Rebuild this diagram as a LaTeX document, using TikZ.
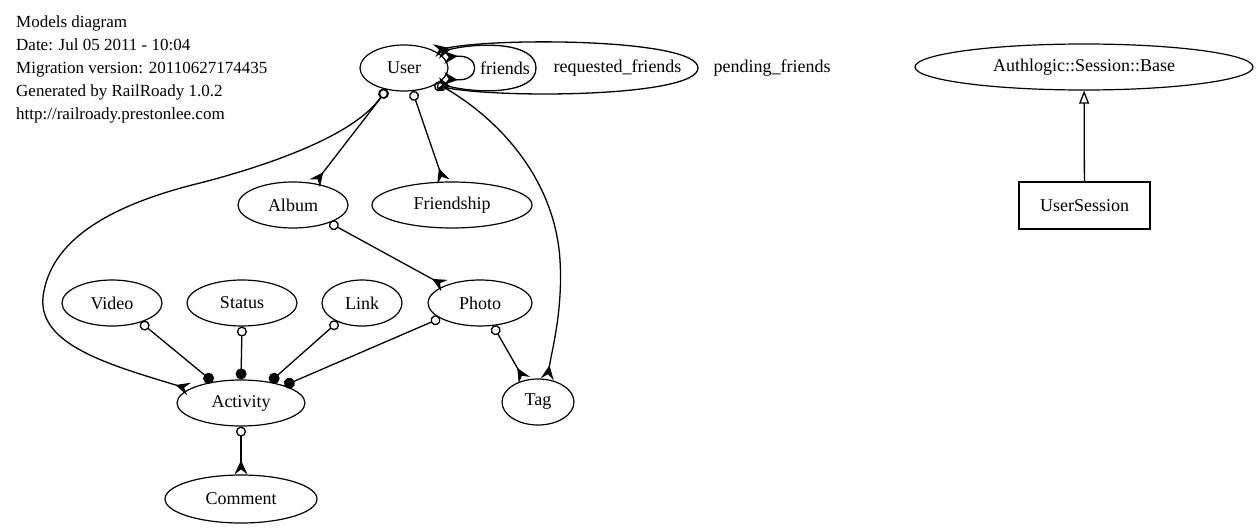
\documentclass[tikz,border=0pt]{standalone}
\usepackage{fontspec}
\setmainfont{Liberation Serif}
\usetikzlibrary{shapes.geometric,arrows.meta}
\tikzset{
  crowfoot/.tip={Stealth[reversed,length=14pt,width=13pt,inset=5pt]},
  odot/.tip={Circle[open,length=10pt,width=10pt]},
  fdot/.tip={Circle[length=11pt,width=11pt]},
  model/.style={draw, ellipse, line width=1.2pt, inner sep=0pt,
    font=\fontsize{18}{21}\selectfont},
  boxmodel/.style={draw, rectangle, line width=1.2pt, inner sep=0pt,
    font=\fontsize{18}{21}\selectfont},
  info/.style={anchor=base west, inner sep=0pt, font=\fontsize{17}{20}\selectfont},
  lbl/.style={inner sep=0pt, font=\fontsize{18}{21}\selectfont},
  link/.style={line width=1.3pt},
  hasmany/.style={link, arrows={odot-crowfoot}},
  poly/.style={link, arrows={odot-fdot}},
}
\begin{document}
\begin{tikzpicture}[x=1pt,y=-1pt]
\useasboundingbox (0,0) rectangle (1260,530);

% header
\node[info] (h1) at (16,27.5) {Models diagram};
\node[info] (h2) at (16,50.5) {Date: Jul 05 2011 - 10:04};
\node[info] (h3) at (16,73.5) {Migration version: 20110627174435};
\node[info] (h4) at (16,96.5) {Generated by RailRoady 1.0.2};
\node[info] (h5) at (16,119) {http://railroady.prestonlee.com};

% models
\node[model, minimum width=88pt, minimum height=46pt] (user) at (404,68) {User};
\node[model, minimum width=110pt, minimum height=46pt] (album) at (293,205) {Album};
\node[model, minimum width=160pt, minimum height=46pt] (friendship) at (452,205) {Friendship};
\node[model, minimum width=100pt, minimum height=46pt] (video) at (112,303) {Video};
\node[model, minimum width=110pt, minimum height=46pt] (status) at (242,303) {Status};
\node[model, minimum width=80pt, minimum height=46pt] (link) at (362,303) {Link};
\node[model, minimum width=104pt, minimum height=46pt] (photo) at (480,303) {Photo};
\node[model, minimum width=128pt, minimum height=46pt] (activity) at (241,403) {Activity};
\node[model, minimum width=72pt, minimum height=46pt] (tag) at (538,402) {Tag};
\node[model, minimum width=152pt, minimum height=48pt] (comment) at (241,499) {Comment};
\node[model, minimum width=338pt, minimum height=46pt] (authbase) at (1084,67) {Authlogic::Session::Base};
\node[boxmodel, minimum width=131pt, minimum height=47pt] (usersession) at (1084.5,205.5) {UserSession};

% self references of User
\draw[link, crowfoot-crowfoot] (user.345) .. controls (481,82) and (481,54) .. (user.15);
\draw[link, crowfoot-crowfoot] (user.335) .. controls (480,94) and (536,94) .. (536,68)
  .. controls (536,42) and (480,42) .. (user.25);
\draw[link, odot-crowfoot] (user.330) .. controls (500,99) and (698,97) .. (698,68)
  .. controls (698,39) and (500,37) .. (user.30);
\node[lbl] (lfriends) at (505,68) {friends};
\node[lbl] (lrequested) at (617.5,68) {requested\_friends};
\node[lbl] (lpending) at (772,68) {pending\_friends};

% has_many
\draw[hasmany] (user.232) -- (album.45);
\draw[hasmany] (user.290) -- (friendship.110);
\draw[hasmany] (user.230) .. controls (355,135) and (270,165) .. (200,183)
  .. controls (110,205) and (50,240) .. (43,297)
  .. controls (38,345) and (110,365) .. (activity.165);
\draw[hasmany] (user.335) .. controls (500,120) and (555,180) .. (560,260)
  .. controls (563,310) and (552,350) .. (tag.68);
\draw[hasmany] (album.334) -- (photo.154);
\draw[hasmany] (photo.300) -- (tag.122);
\draw[hasmany] (activity.south) -- (comment.north);

% polymorphic activities
\draw[poly] (video.326) -- (activity.143);
\draw[poly] (status.south) -- (activity.north);
\draw[poly] (link.218) -- (activity.36);
\draw[poly] (photo.201) -- (activity.22);

% inheritance
\draw[link, -{Triangle[open,length=13pt,width=10pt]}] (usersession) -- (authbase);
\end{tikzpicture}
\end{document}
